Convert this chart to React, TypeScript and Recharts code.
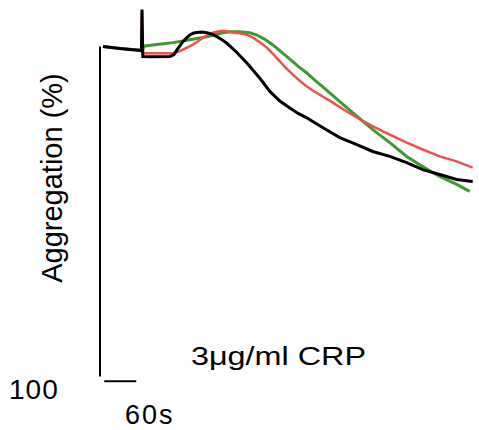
import { LineChart, Line, XAxis, YAxis, ReferenceLine, Customized } from "recharts";

// time in seconds, aggregation in % (0 = baseline, grows downward)
const blackT = [5.6, 37.5, 75, 77.8, 78.8, 80.3, 93.8, 131.3, 138.8, 144.4, 155.6, 163.1, 168.8, 176.3, 181.9, 191.3, 200.6, 210, 219.4, 228.8, 238.1, 256.9, 275.6, 300, 318.8, 337.5, 356.3, 371, 388.1, 406, 425.6, 450, 481.9, 511.9, 543.8, 575.6, 605.6, 637.5, 669.4, 699.4];
const blackY = [0, 0.6, 1.2, 1.3, -11.2, 3.0, 3.1, 3.0, 2.4, 1.0, -1.5, -2.7, -3.6, -4.1, -4.3, -4.4, -4.2, -3.8, -3.0, -2.1, -1.0, 1.8, 5.0, 9.6, 13.6, 16.5, 18.6, 20.2, 21.6, 23.4, 25.3, 27.6, 29.7, 31.8, 33.3, 35.2, 37.3, 38.8, 40.3, 40.9];

const redT = [5.6, 37.5, 75, 77.8, 78.8, 80.6, 125.6, 136.9, 146, 155.6, 165, 174.4, 184, 193.1, 202.5, 211.9, 221.3, 230.6, 240, 249.4, 262, 275.6, 286.9, 300, 313.1, 325, 337.5, 349, 361.9, 375, 388.1, 400, 412.5, 436.9, 463.1, 481.9, 511.9, 543.8, 575.6, 605.6, 637.5, 669.4, 699.4];
const redY = [0, 0.6, 1.1, 1.2, -10.6, 2.0, 2.0, 2.0, 1.6, 0.9, 0.2, -0.6, -1.6, -2.7, -3.5, -4.2, -4.6, -4.8, -4.6, -4.3, -4.0, -3.6, -2.7, -1.3, 0.3, 2.3, 4.5, 6.5, 8.5, 10.4, 12.1, 13.4, 14.6, 17.0, 19.7, 21.5, 24.2, 26.7, 29.1, 31.2, 33.3, 34.8, 36.7];

const greenT = [5.6, 37.5, 75, 80.6, 84.4, 106.9, 136.9, 168.8, 200.6, 230.6, 246, 262.5, 281.3, 294.4, 309.4, 324.4, 340, 356.3, 372, 388.1, 403, 418.1, 434, 450, 466, 481.9, 511.9, 543.8, 575.6, 605.6, 637.5, 669.4, 693.8];
const greenY = [0, 0.6, 1.0, 0.6, -0.2, -0.6, -1.2, -2.1, -3.0, -4.2, -4.5, -4.5, -4.2, -3.5, -2.2, -0.5, 1.6, 3.8, 6.0, 8.0, 10.2, 12.2, 14.4, 16.7, 18.9, 21.1, 25.2, 29.1, 33.3, 36.4, 39.4, 41.8, 43.9];

const axisLabel = "Aggregation (%)";
const agonist = "3μg/ml CRP";
const yMaxLabel = "100";
const timeBarLabel = "60s";
const timeBar = [8, 68]; // seconds

const toRows = (t: number[], y: number[]) => t.map((v, i) => ({ t: v, y: y[i] }));
const black = toRows(blackT, blackY);
const red = toRows(redT, redY);
const green = toRows(greenT, greenY);

const FONT = "'Liberation Sans', Arial, sans-serif";

function Labels() {
  return (
    <g fontFamily={FONT} fill="#000">
      <text x={62} y={178} fontSize={29} textAnchor="middle" transform="rotate(-90 62 178)">{axisLabel}</text>
      <text x={191} y={365} fontSize={26} textLength={175} lengthAdjust="spacingAndGlyphs">{agonist}</text>
      <text x={9} y={399} fontSize={28} letterSpacing={1}>{yMaxLabel}</text>
      <text x={125} y={424} fontSize={27} letterSpacing={2}>{timeBarLabel}</text>
    </g>
  );
}

export default function App() {
  return (
    <div style={{ position: "absolute", left: 0, top: 0, background: "#fff" }}>
      <LineChart width={479} height={430} margin={{ top: 7, right: 6, bottom: 47, left: 100 }}>
        <XAxis type="number" dataKey="t" domain={[0, 700]} hide allowDataOverflow />
        <YAxis type="number" dataKey="y" domain={[-12, 102]} reversed hide allowDataOverflow />
        <ReferenceLine segment={[{ x: 0, y: 0 }, { x: 0, y: 100 }]} stroke="#000" strokeWidth={2} ifOverflow="visible" />
        <ReferenceLine segment={[{ x: timeBar[0], y: 101.5 }, { x: timeBar[1], y: 101.5 }]} stroke="#000" strokeWidth={2} ifOverflow="visible" />
        <Line data={green} dataKey="y" type="linear" stroke="#3c9b2f" strokeWidth={3} dot={false} isAnimationActive={false} />
        <Line data={red} dataKey="y" type="linear" stroke="#ef4f4f" strokeWidth={2.5} dot={false} isAnimationActive={false} />
        <Line data={black} dataKey="y" type="linear" stroke="#000" strokeWidth={3} dot={false} isAnimationActive={false} />
        <Customized component={Labels} />
      </LineChart>
    </div>
  );
}
